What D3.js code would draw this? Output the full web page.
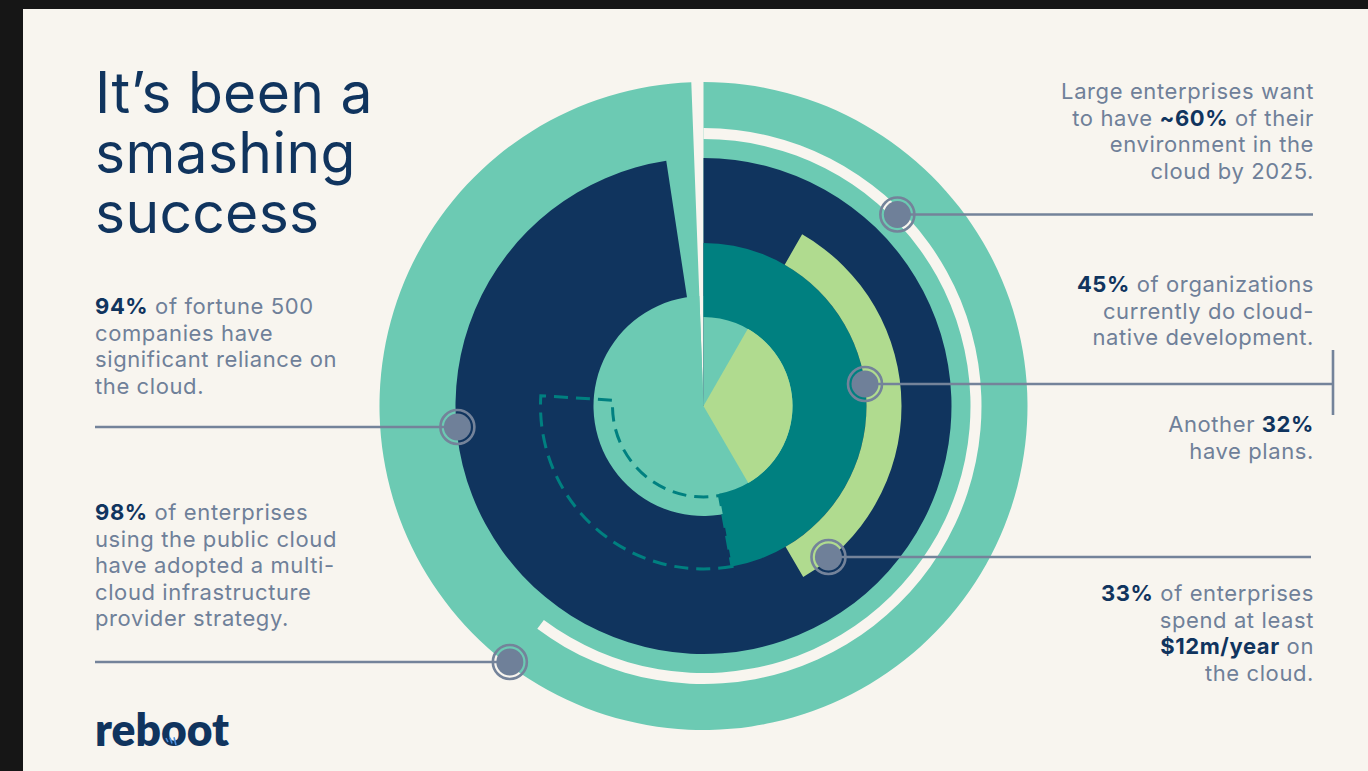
<!DOCTYPE html>
<html><head><meta charset="utf-8">
<script src="https://cdn.jsdelivr.net/npm/d3@7"></script>
<style>html,body{margin:0;padding:0;background:#161616;overflow:hidden}svg{display:block}</style>
</head><body><svg id="c" width="1368" height="771"></svg>
<script>
// ---- data (percent of a full turn) ----
const ringNames   = ["Fortune 500 reliance", "Cloud target 2025", "Multi-cloud", "Cloud-native now", "Cloud-native plans", "Spend ≥ $12m/yr"];
const ringStart   = [0,    0,    0,    0,    47.2, 8.3];
const ringSpan    = [99.4, 60.2, 97.6, 47.2, 28.8, 33.3];
const titleLines  = ["It’s been a", "smashing", "success"];
// rich text: [text, bold?]
const leftNotes = [
  [[["94%",1],[" of fortune 500",0]], [["companies have",0]], [["significant reliance on",0]], [["the cloud.",0]]],
  [[["98%",1],[" of enterprises",0]], [["using the public cloud",0]], [["have adopted a multi-",0]], [["cloud infrastructure",0]], [["provider strategy.",0]]]
];
const rightNotes = [
  [[["Large enterprises want",0]], [["to have ",0],["~60%",1],[" of their",0]], [["environment in the",0]], [["cloud by 2025.",0]]],
  [[["45%",1],[" of organizations",0]], [["currently do cloud-",0]], [["native development.",0]]],
  [[["Another ",0],["32%",1]], [["have plans.",0]]],
  [[["33%",1],[" of enterprises",0]], [["spend at least",0]], [["$12m/year",1],[" on",0]], [["the cloud.",0]]]
];

// ---- styles ----
const C = {bg:"#f8f5ef", teal:"#6ccab3", navy:"#10345e", dteal:"#008080", green:"#b0db8f", grey:"#6f8099", line:"#74839a"};
const FONT = "Inter, 'Noto Sans', sans-serif";

const svg = d3.select("#c");
svg.append("rect").attr("width",1368).attr("height",771).attr("fill","#161616");
svg.append("rect").attr("x",23).attr("y",9).attr("width",1345).attr("height",762).attr("fill",C.bg);

const cx = 703.5, cy = 406;
const ang = d3.scaleLinear().domain([0,100]).range([0, 2*Math.PI]);
const arc = d3.arc();
const g = svg.append("g").attr("transform",`translate(${cx},${cy})`);
function sector(i, r0, r1, fill){
  const s = ringStart[i], e = ringStart[i] + ringSpan[i];
  return g.append("path").attr("d", arc({innerRadius:r0, outerRadius:r1, startAngle:ang(s), endAngle:ang(e)})).attr("fill", fill);
}
sector(0, 0, 324, C.teal);          // outer ring
sector(1, 267, 278, C.bg);          // 2025 target line
sector(2, 0, 248, C.navy);          // multi-cloud
sector(0, 0, 110, C.teal);          // inner disc
sector(3, 89, 163, C.dteal);        // cloud-native now
sector(5, 0, 89, C.green);          // spend wedge
sector(5, 163, 198, C.green);       // spend arc
// plans (dashed outline)
g.append("path")
  .attr("d", arc({innerRadius:91, outerRadius:163, startAngle:ang(ringStart[4]), endAngle:ang(ringStart[4]+ringSpan[4])}))
  .attr("fill","none").attr("stroke",C.dteal).attr("stroke-width",3).attr("stroke-dasharray","14 8");

// ---- title ----
titleLines.forEach((t,i)=> svg.append("text").attr("x",95).attr("y",113+i*60)
  .attr("font-family",FONT).attr("font-size",57).attr("fill",C.navy).attr("font-weight",400)
  .attr("letter-spacing",0.3).text(t));

// ---- notes ----
function note(lines, x, y0, anchor){
  const t = svg.append("text").attr("font-family",FONT).attr("font-size",22).attr("letter-spacing",0.6)
    .attr("text-anchor",anchor).attr("fill",C.grey);
  lines.forEach((ln,i)=>{
    ln.forEach((seg,j)=>{
      const sp = t.append("tspan").text(seg[0]);
      if(j===0) sp.attr("x",x).attr("y",y0+i*26.6);
      if(seg[1]) sp.attr("font-weight",700).attr("fill",C.navy);
    });
  });
}
note(leftNotes[0], 95, 314, "start");
note(leftNotes[1], 95, 520, "start");
note(rightNotes[0], 1314, 99, "end");
note(rightNotes[1], 1314, 292, "end");
note(rightNotes[2], 1314, 432, "end");
note(rightNotes[3], 1314, 601, "end");

// ---- callouts ----
function dot(x,y){
  svg.append("circle").attr("cx",x).attr("cy",y).attr("r",17).attr("fill","none").attr("stroke",C.line).attr("stroke-width",2.6);
  svg.append("circle").attr("cx",x).attr("cy",y).attr("r",13.5).attr("fill",C.grey);
}
function lead(x1,x2,y){ svg.append("line").attr("x1",x1).attr("x2",x2).attr("y1",y).attr("y2",y).attr("stroke",C.line).attr("stroke-width",2.6); }
const xAt = (r,y,side)=> cx + side*Math.sqrt(r*r-(y-cy)*(y-cy));
// right
[[272.5,214.5,1313],[163,384,1333],[196,557,1311]].forEach(([r,y,x2])=>{ const x=xAt(r,y,1); lead(x,x2,y); dot(x,y); });
svg.append("line").attr("x1",1333).attr("x2",1333).attr("y1",350).attr("y2",415).attr("stroke",C.line).attr("stroke-width",2.6);
// left
[[247,427],[321,662]].forEach(([r,y])=>{ const x=xAt(r,y,-1); lead(95,x,y); dot(x,y); });

// ---- logo ----
svg.append("text").attr("x",95).attr("y",746).attr("font-family","Lato, sans-serif").attr("font-weight",800)
  .attr("font-size",46).attr("fill",C.navy).attr("textLength",134).attr("lengthAdjust","spacingAndGlyphs").text("reboot");
// small signal marks on the logo
const lg = svg.append("g").attr("stroke","#4a8fe0").attr("stroke-width",1.6).attr("fill","none");
[[0,3],[4,4.5],[8,6]].forEach(([d,l])=> lg.append("line").attr("x1",166+d).attr("y1",739-l*0.3).attr("x2",168+d).attr("y2",739+l)) ;
</script>
</body></html>
